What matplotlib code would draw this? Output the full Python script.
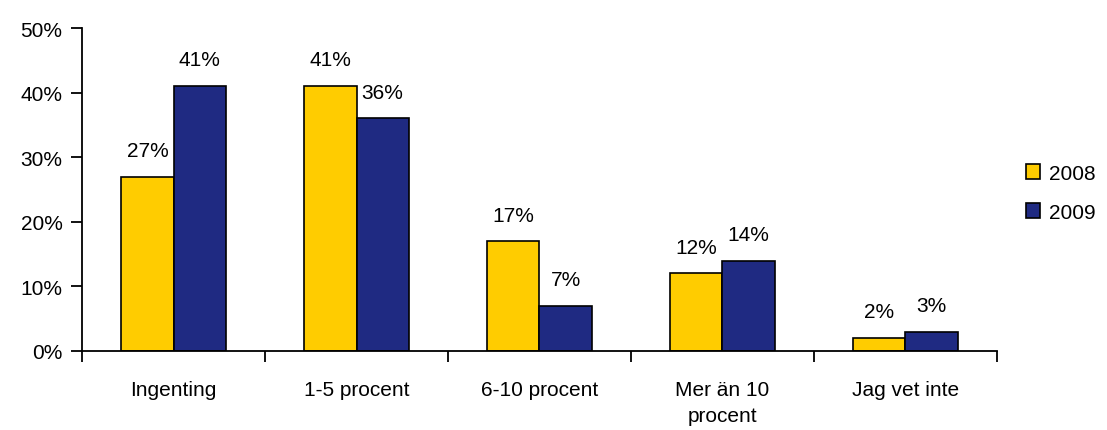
import numpy as np
import matplotlib.pyplot as plt
from matplotlib.ticker import PercentFormatter, FixedLocator

plt.rcParams['font.family'] = ['Liberation Sans', 'DejaVu Sans']

categories = ['Ingenting', '1-5 procent', '6-10 procent', 'Mer än 10\nprocent', 'Jag vet inte']
years = ['2008', '2009']
vals_2008 = [27, 41, 17, 12, 2]
vals_2009 = [41, 36, 7, 14, 3]

colors = ['#FFCC00', '#1F2A82']
w = 0.285
fs = 15

fig = plt.figure(figsize=(11.07, 4.31), dpi=100)
ax = fig.add_axes([0.0741, 0.1833, 0.8265, 0.7494])

x = np.arange(len(categories))
for off, vals, c, lab in [(-w / 2, vals_2008, colors[0], years[0]),
                          (w / 2, vals_2009, colors[1], years[1])]:
    bars = ax.bar(x + off, vals, w, color=c, edgecolor='black', linewidth=1.2, label=lab)
    for b, v in zip(bars, vals):
        ax.annotate(f'{v}%', (b.get_x() + b.get_width() / 2, v), xytext=(0, 12),
                    textcoords='offset points', ha='center', va='bottom', fontsize=fs)

ax.set_xlim(-0.5, len(categories) - 0.5)
ax.set_ylim(0, 50)
ax.set_yticks(range(0, 51, 10))
ax.yaxis.set_major_formatter(PercentFormatter(decimals=0))

# category labels sit between the boundary ticks
ax.set_xticks(x)
ax.set_xticklabels(categories, fontsize=fs, linespacing=1.45)
ax.tick_params(axis='x', which='major', length=0, pad=21)
ax.xaxis.set_minor_locator(FixedLocator(np.arange(-0.5, len(categories), 1)))
ax.tick_params(axis='x', which='minor', length=8, width=1.3, direction='out')
ax.tick_params(axis='y', length=8, width=1.3, direction='out', labelsize=fs, pad=6)

for s in ['top', 'right']:
    ax.spines[s].set_visible(False)
for s in ['left', 'bottom']:
    ax.spines[s].set_linewidth(1.3)

ax.legend(loc='center left', bbox_to_anchor=(1.011, 0.49), frameon=False, fontsize=fs,
          handlelength=0.7, handleheight=0.7, handletextpad=0.4, labelspacing=0.95)

fig.savefig('out.png', dpi=100)
